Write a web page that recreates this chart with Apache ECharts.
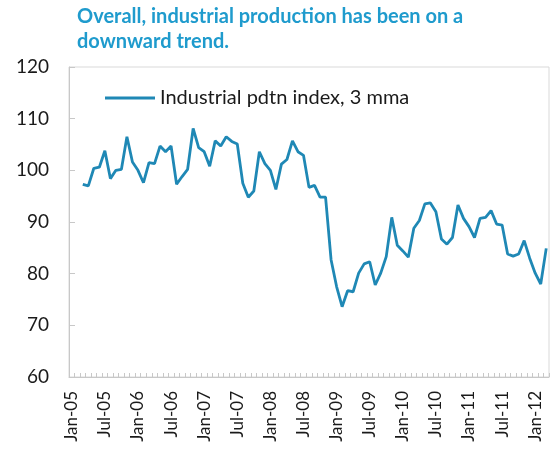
<!DOCTYPE html>
<html>
<head>
<meta charset="utf-8">
<script src="https://cdn.jsdelivr.net/npm/echarts@6/dist/echarts.min.js"></script>
<style>
  html, body { margin: 0; padding: 0; background: #fff; }
  #chart { width: 552px; height: 454px; }
</style>
</head>
<body>
<div id="chart"></div>
<script>
var monthNames = ['Jan', 'Feb', 'Mar', 'Apr', 'May', 'Jun', 'Jul', 'Aug', 'Sep', 'Oct', 'Nov', 'Dec'];
var years = ['05', '06', '07', '08', '09', '10', '11', '12'];
var lastMonth = 3; // axis runs Jan-05 .. Mar-12

// 3 month moving average, starts Mar-05 (first two months empty)
var pdtnIndex = [
    null, null,
    97.3, 97.0, 100.4, 100.6, 103.8, 98.4, 100.0, 100.2, 106.5, 101.6,
    100.0, 97.6, 101.5, 101.3, 104.7, 103.6, 104.7, 97.3, 98.8, 100.2, 108.1, 104.4,
    103.6, 100.8, 105.7, 104.7, 106.5, 105.6, 105.1, 97.5, 94.8, 96.0, 103.6, 101.3,
    100.0, 96.3, 101.2, 102.1, 105.7, 103.6, 102.9, 96.7, 97.1, 94.8, 94.8, 82.7,
    77.5, 73.6, 76.7, 76.5, 80.1, 81.9, 82.3, 77.8, 80.1, 83.3, 90.9, 85.5,
    84.4, 83.2, 88.8, 90.3, 93.5, 93.7, 92.0, 86.7, 85.7, 87.0, 93.3, 90.7,
    89.1, 87.0, 90.7, 90.9, 92.2, 89.6, 89.4, 83.8, 83.4, 83.8, 86.4, 83.0,
    80.1, 78.0, 84.9
];

var months = [];
years.forEach(function (y, yi) {
    monthNames.forEach(function (m, mi) {
        if (yi < years.length - 1 || mi < lastMonth) months.push(m + '-' + y);
    });
});

var chart = echarts.init(document.getElementById('chart'));
var option = {
    backgroundColor: '#fff',
    animation: false,
    title: {
        text: 'Overall, industrial production has been on a\ndownward trend.',
        left: 77,
        top: 4,
        padding: 0,
        textStyle: {
            color: '#1f9bcd',
            fontFamily: 'Lato',
            fontWeight: 'bold',
            fontSize: 20,
            lineHeight: 25
        }
    },
    legend: {
        left: 100,
        top: 83,
        icon: 'rect',
        itemWidth: 50,
        itemHeight: 3,
        textStyle: {
            color: '#1a1a1a',
            fontFamily: 'Lato',
            fontSize: 20
        },
        data: ['Industrial pdtn index, 3 mma']
    },
    grid: {
        left: 69,
        top: 67,
        right: 3,
        bottom: 77,
        show: true,
        borderColor: '#d9d9d9',
        borderWidth: 1
    },
    xAxis: {
        type: 'category',
        data: months,
        boundaryGap: true,
        axisLine: { lineStyle: { color: '#c8c8c8' } },
        axisTick: {
            show: true,
            interval: 0,
            inside: true,
            length: 4,
            lineStyle: { color: '#c8c8c8' }
        },
        axisLabel: {
            interval: 5,
            rotate: 90,
            margin: 14,
            color: '#1a1a1a',
            fontFamily: 'Lato',
            fontSize: 17
        }
    },
    yAxis: {
        type: 'value',
        min: 60,
        max: 120,
        interval: 10,
        axisLine: { show: true, lineStyle: { color: '#c8c8c8' } },
        axisTick: { show: true, inside: true, length: 6, lineStyle: { color: '#c8c8c8' } },
        splitLine: { show: false },
        axisLabel: {
            margin: 20,
            color: '#1a1a1a',
            fontFamily: 'Lato',
            fontSize: 19
        }
    },
    series: [{
        name: 'Industrial pdtn index, 3 mma',
        type: 'line',
        data: pdtnIndex,
        showSymbol: false,
        symbol: 'none',
        lineStyle: { color: '#1f88b5', width: 2.8 },
        itemStyle: { color: '#1f88b5' }
    }]
};
chart.setOption(option);
</script>
</body>
</html>
